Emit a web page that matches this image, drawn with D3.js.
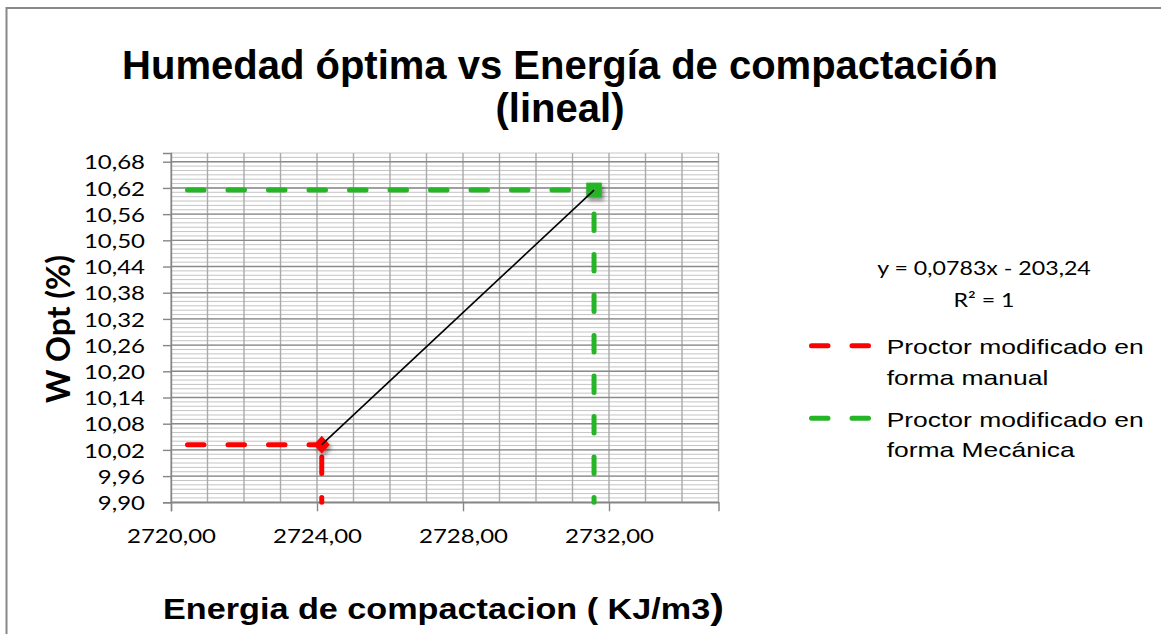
<!DOCTYPE html>
<html>
<head>
<meta charset="utf-8">
<script src="https://cdn.jsdelivr.net/npm/d3@7"></script>
<style>
  body { margin: 0; background: #fff; }
  svg { display: block; }
</style>
</head>
<body>
<svg id="chart" width="1161" height="634"></svg>
<script>
// datos del gráfico
const xDomain = [2720, 2735];
const yDomain = [9.90, 10.70];
const xTicks = [2720, 2724, 2728, 2732];
const yTicks = [9.90, 9.96, 10.02, 10.08, 10.14, 10.20, 10.26, 10.32, 10.38, 10.44, 10.50, 10.56, 10.62, 10.68];
const seriesLabels = [["Proctor modificado en", "forma manual"], ["Proctor modificado en", "forma Mecánica"]];
const energy = [2724.13, 2731.59];
const wOpt = [10.032, 10.615];
const seriesColors = ["#ff0000", "#26b526"];
const trendLabels = ["y = 0,0783x - 203,24", "R² = 1"];
const titleLines = ["Humedad óptima vs Energía de compactación", "(lineal)"];

const W = 1161, H = 634;
const stretch = 1.2;   // el original está estirado a lo ancho
const tickFont = "Lato, 'Open Sans', sans-serif";
const arial = "'Liberation Sans', Arial, sans-serif";

const svg = d3.select("#chart");

const x = d3.scaleLinear().domain(xDomain).range([171, 718.5]);
const y = d3.scaleLinear().domain(yDomain).range([502.3, 153]);

const defs = svg.append("defs");
const shadow = defs.append("filter").attr("id", "shadow")
    .attr("x", "-50%").attr("y", "-50%").attr("width", "200%").attr("height", "200%");
shadow.append("feDropShadow").attr("dx", 2).attr("dy", 3).attr("stdDeviation", 2)
    .attr("flood-color", "#000").attr("flood-opacity", 0.45);

// marco
svg.append("rect")
    .attr("x", 6.5).attr("y", 8).attr("width", W + 20).attr("height", H + 20)
    .attr("fill", "#fff").attr("stroke", "#888").attr("stroke-width", 2);

// título
svg.append("g").selectAll("text")
    .data(titleLines)
    .join("text")
    .attr("x", 560)
    .attr("y", (d, i) => 79 + i * 43)
    .attr("text-anchor", "middle")
    .style("font-family", arial)
    .style("font-weight", "bold")
    .style("font-size", "40px")
    .text(d => d);

// rejilla
const grid = svg.append("g");
const minorY = d3.range(0, 81).map(i => +(yDomain[0] + i * 0.01).toFixed(2));
grid.selectAll(".minor-y")
    .data(minorY)
    .join("line")
    .attr("class", "minor-y")
    .attr("x1", x(xDomain[0])).attr("x2", x(xDomain[1]))
    .attr("y1", d => y(d)).attr("y2", d => y(d))
    .attr("stroke", "#c4c4c4").attr("stroke-width", 1);

grid.selectAll(".minor-x")
    .data(d3.range(xDomain[0], xDomain[1] + 1))
    .join("line")
    .attr("class", "minor-x")
    .attr("x1", d => x(d)).attr("x2", d => x(d))
    .attr("y1", y(yDomain[0])).attr("y2", y(yDomain[1]))
    .attr("stroke", "#aaa").attr("stroke-width", 1.4);

grid.selectAll(".major-y")
    .data(yTicks)
    .join("line")
    .attr("class", "major-y")
    .attr("x1", x(xDomain[0])).attr("x2", x(xDomain[1]))
    .attr("y1", d => y(d)).attr("y2", d => y(d))
    .attr("stroke", "#8a8a8a").attr("stroke-width", 1.4);

// ejes
const fmt = d => d.toFixed(2).replace(".", ",");

const yAxis = svg.append("g")
    .attr("transform", `translate(${x(xDomain[0])},0)`)
    .call(d3.axisLeft(y).tickValues(yTicks).tickSize(8).tickFormat(fmt));
const xAxis = svg.append("g")
    .attr("transform", `translate(0,${y(yDomain[0])})`)
    .call(d3.axisBottom(x).tickValues(xTicks).tickSize(9).tickFormat(fmt));

[yAxis, xAxis].forEach(ax => {
    ax.select(".domain").attr("stroke", "#868686").attr("stroke-width", 1.4);
    ax.selectAll(".tick line").attr("stroke", "#868686").attr("stroke-width", 1.4);
    ax.selectAll("text")
        .style("font-family", tickFont)
        .style("font-size", "20px")
        .attr("fill", "#000");
});
yAxis.selectAll(".tick text")
    .attr("x", null).attr("dy", "0.36em")
    .attr("transform", `translate(-26,0) scale(${stretch},1)`);
xAxis.selectAll(".tick text")
    .attr("y", null).attr("dy", null)
    .attr("transform", `translate(0,41) scale(${stretch},1)`);

// series discontinuas: horizontal hasta el punto y vertical desde el eje
const plot = svg.append("g");
energy.forEach((e, i) => {
    const hPath = d3.line()([[x(xDomain[0]), y(wOpt[i])], [x(e), y(wOpt[i])]]);
    const vPath = d3.line()([[x(e), y(yDomain[0])], [x(e), y(wOpt[i])]]);
    plot.append("path").attr("d", hPath)
        .attr("fill", "none").attr("stroke", seriesColors[i]).attr("stroke-width", 5)
        .attr("stroke-linecap", "round").attr("stroke-dasharray", "16.5 24").attr("stroke-dashoffset", 24);
    plot.append("path").attr("d", vPath)
        .attr("fill", "none").attr("stroke", seriesColors[i]).attr("stroke-width", 5)
        .attr("stroke-linecap", "round").attr("stroke-dasharray", "16.5 24").attr("stroke-dashoffset", 11.7);
});

// marcadores
plot.append("path")
    .attr("transform", `translate(${x(energy[0])},${y(wOpt[0])})`)
    .attr("d", "M0,-9L8,0L0,9L-8,0Z")
    .attr("fill", seriesColors[0]).attr("filter", "url(#shadow)");
plot.append("rect")
    .attr("x", x(energy[1]) - 7.8).attr("y", y(wOpt[1]) - 7.5)
    .attr("width", 15.6).attr("height", 15)
    .attr("fill", seriesColors[1]).attr("filter", "url(#shadow)");

// línea de tendencia lineal, encima de los marcadores
plot.append("path")
    .attr("d", d3.line()(energy.map((e, i) => [x(e), y(wOpt[i])])))
    .attr("fill", "none").attr("stroke", "#000").attr("stroke-width", 1.6);

// títulos de ejes
svg.append("text")
    .attr("transform", "translate(70,329) rotate(-90)")
    .attr("text-anchor", "middle")
    .style("font-family", tickFont)
    .style("font-weight", "bold")
    .style("font-size", "32px")
    .text("W Opt (%)");

const xTitle = svg.append("text")
    .attr("transform", "translate(163,619) scale(1.14,1)")
    .style("font-family", arial)
    .style("font-weight", "bold")
    .style("font-size", "30px");
xTitle.append("tspan").text("Energia de compactacion ( KJ/m3");
xTitle.append("tspan").style("font-size", "36px").text(")");

// ecuación de la tendencia
svg.append("g").selectAll("text")
    .data(trendLabels)
    .join("text")
    .attr("transform", (d, i) => `translate(984,${275 + i * 32}) scale(1.22,1)`)
    .attr("text-anchor", "middle")
    .style("font-family", tickFont)
    .style("font-size", "19px")
    .text(d => d);

// leyenda
const legend = svg.append("g");
seriesLabels.forEach((lines, i) => {
    const ly = 345.7 + i * 72.6;
    legend.append("line")
        .attr("x1", 811.5).attr("x2", 868.5).attr("y1", ly).attr("y2", ly)
        .attr("stroke", seriesColors[i]).attr("stroke-width", 5)
        .attr("stroke-linecap", "round").attr("stroke-dasharray", "16.5 24");
    legend.append("text")
        .attr("transform", `translate(886.7,${ly + 8.5}) scale(1.29,1)`)
        .style("font-family", arial)
        .style("font-size", "20.5px")
        .selectAll("tspan")
        .data(lines)
        .join("tspan")
        .attr("x", 0)
        .attr("dy", (d, j) => j === 0 ? 0 : 30.5)
        .text(d => d);
});
</script>
</body>
</html>
